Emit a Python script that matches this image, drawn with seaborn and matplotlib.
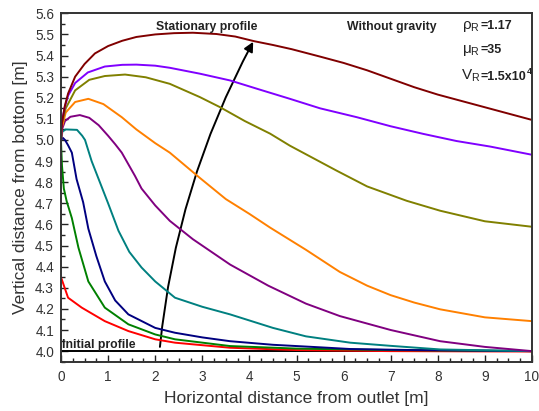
import matplotlib
matplotlib.use("Agg")
import matplotlib.pyplot as plt
from matplotlib.patches import FancyArrowPatch
from matplotlib.ticker import MultipleLocator, FormatStrFormatter
import numpy as np
import pandas as pd
import seaborn as sns

# Free-surface profiles at successive times (x: horizontal distance, y: height)
x_red = [0, 0.15, 0.44, 0.93, 1.43, 2.0, 2.42, 3.59, 5.0, 7.0, 10.0]
y_red = [4.35, 4.253, 4.206, 4.142, 4.095, 4.056, 4.04, 4.016, 4.005, 4.0, 3.998]

x_green = [0, 0.02, 0.06, 0.12, 0.23, 0.37, 0.58, 0.93, 1.43, 2.0, 2.42, 3.59, 5.0, 7.0, 10.0]
y_green = [4.99, 4.88, 4.77, 4.71, 4.63, 4.49, 4.33, 4.206, 4.127, 4.079, 4.056, 4.024, 4.012, 4.005, 4.0]

x_navy = [0, 0.04, 0.085, 0.15, 0.23, 0.33, 0.47, 0.58, 0.75, 0.93, 1.15, 1.43, 2.0, 2.42, 3.0,
          3.59, 4.5, 5.5, 6.14, 7.5, 10.0]
y_navy = [5.0, 5.01, 5.0, 4.975, 4.94, 4.815, 4.705, 4.58, 4.45, 4.33, 4.24, 4.174, 4.11, 4.087, 4.065,
          4.047, 4.03, 4.018, 4.01, 4.005, 4.0]

x_teal = [0, 0.03, 0.1, 0.34, 0.45, 0.51, 0.65, 0.79, 0.86, 1.0, 1.22, 1.45, 1.71, 2.0, 2.42, 3.0,
          3.59, 4.5, 5.2, 6.14, 7.0, 8.05, 9.0, 10.0]
y_teal = [5.0, 5.04, 5.05, 5.048, 5.02, 5.0, 4.9, 4.82, 4.78, 4.70, 4.57, 4.47, 4.396, 4.33, 4.253, 4.21,
          4.174, 4.11, 4.07, 4.04, 4.025, 4.008, 4.004, 4.0]

x_purple = [0, 0.02, 0.085, 0.2, 0.4, 0.6, 0.8, 1.0, 1.15, 1.29, 1.43, 1.57, 1.71, 2.0, 2.31, 2.8,
            3.59, 4.4, 5.2, 5.92, 7.0, 8.05, 9.0, 10.0]
y_purple = [5.0, 5.05, 5.09, 5.11, 5.118, 5.105, 5.07, 5.02, 4.98, 4.94, 4.885, 4.83, 4.77, 4.69, 4.617, 4.53,
            4.41, 4.31, 4.225, 4.166, 4.1, 4.047, 4.02, 4.0]

x_orange = [0, 0.02, 0.1, 0.3, 0.58, 0.9, 1.29, 1.6, 2.0, 2.31, 2.95, 3.5, 4.0, 4.44, 5.2, 5.92,
            6.5, 7.0, 7.5, 8.05, 9.0, 10.0]
y_orange = [5.0, 5.06, 5.13, 5.18, 5.195, 5.17, 5.108, 5.05, 4.985, 4.94, 4.82, 4.72, 4.65, 4.585, 4.48, 4.375,
            4.31, 4.265, 4.23, 4.198, 4.16, 4.142]

x_olive = [0, 0.02, 0.1, 0.3, 0.6, 0.93, 1.36, 1.8, 2.31, 2.95, 3.38, 3.9, 4.44, 4.86, 5.85, 6.5,
           7.34, 8.05, 9.0, 10.0]
y_olive = [5.0, 5.08, 5.15, 5.235, 5.285, 5.303, 5.31, 5.297, 5.266, 5.203, 5.155, 5.09, 5.03, 4.973, 4.855, 4.78,
           4.712, 4.665, 4.615, 4.589]

x_violet = [0, 0.02, 0.085, 0.15, 0.3, 0.57, 0.93, 1.3, 1.6, 2.0, 2.31, 2.95, 3.59, 4.2, 4.86, 5.5,
            6.28, 7.0, 7.69, 8.4, 9.11, 10.0]
y_violet = [5.0, 5.09, 5.16, 5.21, 5.27, 5.32, 5.348, 5.356, 5.357, 5.352, 5.342, 5.314, 5.282, 5.24, 5.195, 5.15,
            5.108, 5.065, 5.029, 4.995, 4.969, 4.93]

x_maroon = [0, 0.02, 0.08, 0.15, 0.3, 0.5, 0.72, 1.0, 1.3, 1.6, 2.0, 2.4, 2.8, 3.3, 3.7, 4.1, 4.5,
            4.9, 5.5, 6.0, 6.5, 7.0, 7.5, 8.0, 8.5, 9.0, 9.5, 10.0]
y_maroon = [5.0, 5.08, 5.16, 5.22, 5.30, 5.36, 5.41, 5.445, 5.47, 5.488, 5.50, 5.506, 5.508, 5.502, 5.49, 5.468, 5.45,
            5.43, 5.395, 5.365, 5.33, 5.29, 5.25, 5.215, 5.185, 5.155, 5.125, 5.095]

x_initial = [0.0, 10.0]
y_initial = [4.0, 4.0]

series = [
    ("initial", x_initial, y_initial, "#000000"),
    ("t1", x_red, y_red, "#FF0000"),
    ("t2", x_green, y_green, "#008000"),
    ("t3", x_navy, y_navy, "#000080"),
    ("t4", x_teal, y_teal, "#008080"),
    ("t5", x_purple, y_purple, "#800080"),
    ("t6", x_orange, y_orange, "#FF8000"),
    ("t7", x_olive, y_olive, "#808000"),
    ("t8", x_violet, y_violet, "#8000FF"),
    ("stationary", x_maroon, y_maroon, "#800000"),
]

frames = [pd.DataFrame({"x": xs, "y": ys, "profile": name}) for name, xs, ys, _ in series]
df = pd.concat(frames, ignore_index=True)
palette = {name: c for name, _, _, c in series}

sns.set_style("ticks")
plt.rcParams["font.family"] = ["Liberation Sans", "DejaVu Sans"]
plt.rcParams["mathtext.fontset"] = "custom"
plt.rcParams["mathtext.rm"] = "Liberation Sans"
plt.rcParams["mathtext.it"] = "Liberation Sans:italic"
plt.rcParams["mathtext.bf"] = "Liberation Sans:bold"
plt.rcParams["mathtext.default"] = "regular"

fig = plt.figure(figsize=(5.39, 4.11), dpi=100)
ax = fig.add_axes([0.1132, 0.120, 0.8738, 0.8476])

sns.lineplot(data=df, x="x", y="y", hue="profile", palette=palette, sort=False,
             estimator=None, legend=False, linewidth=1.4, ax=ax)

ax.set_xlim(0, 10)
ax.set_ylim(3.95, 5.6)
ax.xaxis.set_major_locator(MultipleLocator(1))
ax.xaxis.set_minor_locator(MultipleLocator(0.25))
ax.yaxis.set_major_locator(MultipleLocator(0.1))
ax.yaxis.set_minor_locator(MultipleLocator(0.05))
ax.yaxis.set_major_formatter(FormatStrFormatter("%.1f"))
ax.tick_params(which="both", direction="in", top=False, right=False,
               colors="#222222", labelcolor="#333333", labelsize=9.8)
ax.tick_params(which="major", length=5, width=1.0)
ax.tick_params(which="minor", length=3, width=1.0)
ax.tick_params(axis="y", pad=5)
ax.tick_params(axis="x", pad=6)
for s in ax.spines.values():
    s.set_color("#333333")
    s.set_linewidth(1.4)

ax.set_xlabel("Horizontal distance from outlet [m]", fontsize=12.5, color="#333333", labelpad=5)
ax.set_ylabel("Vertical distance from bottom [m]", fontsize=12.5, color="#333333", labelpad=5)

bold = dict(fontsize=8.8, fontweight="bold", color="#222222")
ax.text(3.10, 5.522, "Stationary profile", ha="center", va="baseline", **bold)
ax.text(7.02, 5.522, "Without gravity", ha="center", va="baseline", **bold)
ax.text(0.03, 4.013, "Initial profile", ha="left", va="baseline", **bold)

# Dimensionless parameters: symbol with subscript, then the value in bold right after it
sym = dict(fontsize=11, color="#222222", ha="left", va="baseline")
val = dict(fontsize=9, fontweight="bold", color="#222222", ha="left", va="baseline")


def param(x, y, symbol, value):
    s = ax.text(x, y, symbol, **sym)
    v = ax.annotate(value, xy=(1.0, y), xycoords=(s, "data"), xytext=(0.3, 0),
                    textcoords="offset points", **val)
    return v


param(8.51, 5.528, r"$\rho_{R}$", "=1.17")
param(8.51, 5.410, r"$\mu_{R}$", "=35")
vr = param(8.49, 5.284, r"$V_{R}$", "=1.5x10")
ax.annotate("4", xy=(1.0, 5.284), xycoords=(vr, "data"), xytext=(0.4, 4.5),
            textcoords="offset points", fontsize=6.5, fontweight="bold",
            color="#222222", ha="left", va="baseline")

arrow = FancyArrowPatch((2.10, 4.02), (4.08, 5.465), arrowstyle="-|>",
                        connectionstyle="arc3,rad=-0.1", mutation_scale=14,
                        color="black", lw=1.4, shrinkA=0, shrinkB=0)
ax.add_patch(arrow)

fig.savefig("out.png", dpi=100)
